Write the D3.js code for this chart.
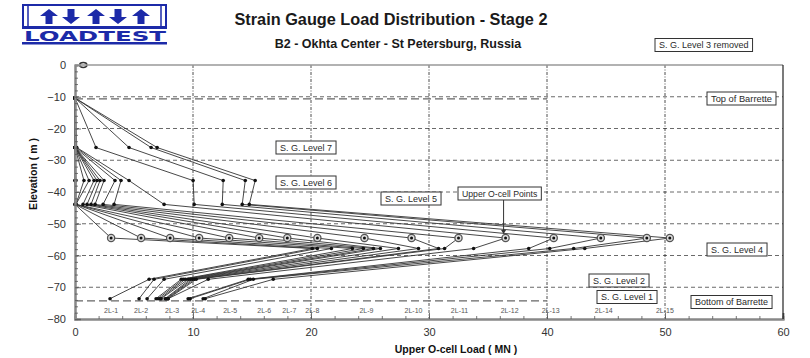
<!DOCTYPE html>
<html><head><meta charset="utf-8">
<script src="https://cdn.jsdelivr.net/npm/d3@7"></script>
<style>
body{margin:0;background:#fff;}
svg{display:block;font-family:"Liberation Sans",Arial,sans-serif;}
</style></head><body>
<svg id="chart" width="810" height="358"></svg>
<script>
// ---------------- DATA ----------------
const levelNames = ["Top of Barrette","S. G. Level 7","S. G. Level 6","S. G. Level 5","Upper O-cell","S. G. Level 4","S. G. Level 2","S. G. Level 1"];
const levelElev  = [-10.4, -26.0, -36.4, -43.9, -54.5, -57.8, -67.5, -73.6];

// load (MN) at each level for the 16 load steps
const loadTop   = [0,0,0,0,0,0,0,0,0,0,0,0,0,0,0,0];
const loadSG7   = [0,0,0,0,0,0,0,0,0,0,0.1,0.15,1.78,4.58,6.45,6.96];
const loadSG6   = [0,0,0.08,0.76,1.19,1.61,1.87,2.12,2.46,3.39,3.90,4.58,10.01,12.56,14.43,15.27];
const loadSG5   = [0,0,0.08,0.08,0.08,0.68,1.02,1.36,1.70,2.38,3.31,7.55,10.10,12.48,14.17,14.77];
const loadOcell = [3.06,5.60,8.06,10.52,13.07,15.61,17.99,20.54,24.53,28.52,32.50,36.49,40.57,44.56,48.46,50.41];
const loadSG4   = [20.11,20.54,21.73,23.51,24.44,25.29,25.88,27.41,29.11,30.81,31.32,33.78,38.45,40.23,42.26,43.20];
const loadSG2   = [6.28,6.70,7.55,9.00,9.17,9.34,9.59,9.76,9.93,10.10,10.27,11.29,14.68,14.85,15.11,16.80];
const loadSG1   = [2.97,5.43,6.11,6.87,7.04,7.21,7.30,7.64,7.72,7.81,7.89,7.89,9.59,9.76,10.86,11.03];

const stepLabels = ["2L-1","2L-2","2L-3","2L-4","2L-5","2L-6","2L-7","2L-8","2L-9","2L-10","2L-11","2L-12","2L-13","2L-14","2L-15"];
const stepLabelX = [3.06,5.60,8.23,10.44,13.15,16.04,18.16,20.11,24.70,28.69,32.59,36.83,40.31,44.81,49.99];

const xTicks = [0,10,20,30,40,50,60];
const yTicks = [0,-10,-20,-30,-40,-50,-60,-70,-80];
const gridX = [10,20,30,40,50];
const gridY = [-10,-20,-30,-40,-50,-60,-70];
const barretteElev = [-10.7,-74.3];
const barretteExtent = 40;
const zeroPoint = [0.7, 0];

const title = "Strain Gauge Load Distribution - Stage 2";
const subtitle = "B2 - Okhta Center - St Petersburg, Russia";
const xTitle = "Upper O-cell Load  ( MN )";
const yTitle = "Elevation  ( m )";

// ---------------- DRAW ----------------
const svg = d3.select("#chart");
const x = d3.scaleLinear().domain([0,60]).range([75,783]);
const y = d3.scaleLinear().domain([-80,0]).range([319,65]);

// grid
const g = svg.append("g");
g.selectAll(".gy").data(gridY).join("line")
  .attr("x1",x(0)).attr("x2",x(60)).attr("y1",d=>y(d)).attr("y2",d=>y(d))
  .attr("stroke","#444").attr("stroke-width",0.8).attr("stroke-dasharray","4,3");
g.selectAll(".gx").data(gridX).join("line")
  .attr("x1",d=>x(d)).attr("x2",d=>x(d)).attr("y1",y(0)).attr("y2",y(-80))
  .attr("stroke","#222").attr("stroke-width",0.8).attr("stroke-dasharray","3,1.5,1,1.5");
g.selectAll(".gb").data(barretteElev).join("line")
  .attr("x1",x(0)).attr("x2",x(barretteExtent)).attr("y1",d=>y(d)).attr("y2",d=>y(d))
  .attr("stroke","#666").attr("stroke-width",1.3).attr("stroke-dasharray","8,4");

// data lines
const loads = [loadTop,loadSG7,loadSG6,loadSG5,loadOcell,loadSG4,loadSG2,loadSG1];
const steps = loadOcell.map((_,i)=>levelElev.map((e,j)=>({v:loads[j][i], e, lvl:j})));
const line = d3.line().x(d=>x(d.v)).y(d=>y(d.e));
svg.append("g").selectAll("path").data(steps).join("path")
  .attr("d",line).attr("fill","none").attr("stroke","#333").attr("stroke-width",0.9);

// points
const allPts = steps.flat();
svg.append("g").selectAll("circle").data(allPts.filter(d=>d.lvl!==4)).join("circle")
  .attr("cx",d=>x(d.v)).attr("cy",d=>y(d.e)).attr("r",1.8).attr("fill","#111");
const oc = svg.append("g").selectAll("g").data(allPts.filter(d=>d.lvl===4)).join("g");
oc.append("circle").attr("cx",d=>x(d.v)).attr("cy",d=>y(d.e)).attr("r",3.6)
  .attr("fill","#ddd").attr("stroke","#555").attr("stroke-width",1.3);
oc.append("circle").attr("cx",d=>x(d.v)).attr("cy",d=>y(d.e)).attr("r",1.5).attr("fill","#111");

// zero marker
svg.append("ellipse").attr("cx",x(zeroPoint[0])).attr("cy",y(zeroPoint[1]))
  .attr("rx",3.6).attr("ry",2.4).attr("fill","#fff").attr("stroke","#333").attr("stroke-width",1.5);

// axes
const axB = svg.append("g").attr("transform",`translate(0,${y(-80)})`)
  .call(d3.axisBottom(x).tickValues(xTicks).tickSize(-6).tickPadding(9));
const axBm = svg.append("g").attr("transform",`translate(0,${y(-80)})`)
  .call(d3.axisBottom(x).tickValues(d3.range(0,61,2)).tickSize(-3).tickFormat(""));
const axL = svg.append("g").attr("transform",`translate(${x(0)},0)`)
  .call(d3.axisLeft(y).tickValues(yTicks).tickSize(-6).tickPadding(9));
const axLm = svg.append("g").attr("transform",`translate(${x(0)},0)`)
  .call(d3.axisLeft(y).tickValues(d3.range(-80,1,2)).tickSize(-3).tickFormat(""));
[axB,axBm,axL,axLm].forEach(a=>{
  a.select(".domain").attr("stroke","#888").attr("stroke-width",2);
  a.selectAll(".tick line").attr("stroke","#555").attr("stroke-width",0.8);
  a.selectAll("text").attr("fill","#333").attr("font-size",11).attr("font-family","Liberation Sans, Arial, sans-serif");
});
// frame top and right
svg.append("line").attr("x1",x(0)).attr("x2",x(60)).attr("y1",y(0)).attr("y2",y(0)).attr("stroke","#999").attr("stroke-width",1.5);
svg.append("line").attr("x1",x(60)).attr("x2",x(60)).attr("y1",y(0)).attr("y2",y(-80)).attr("stroke","#222").attr("stroke-width",1.2);

// step labels
svg.append("g").selectAll("text").data(stepLabels).join("text")
  .attr("x",(d,i)=>x(stepLabelX[i])).attr("y",313).attr("text-anchor","middle")
  .attr("font-size",7).attr("fill","#555").text(d=>d);

// axis titles
svg.append("text").attr("x",456).attr("y",353).attr("text-anchor","middle")
  .attr("font-size",10.5).attr("font-weight","bold").attr("fill","#111").text(xTitle);
svg.append("text").attr("transform","translate(37,174) rotate(-90)").attr("text-anchor","middle")
  .attr("font-size",10.5).attr("font-weight","bold").attr("fill","#111").text(yTitle);

// titles
svg.append("text").attr("x",391).attr("y",25).attr("text-anchor","middle")
  .attr("font-size",16.3).attr("font-weight","bold").attr("fill","#1a1a1a").text(title);
svg.append("text").attr("x",398).attr("y",48).attr("text-anchor","middle")
  .attr("font-size",12.5).attr("font-weight","bold").attr("fill","#1a1a1a").text(subtitle);

// annotation boxes (pixel layout)
function box(txt, left, cy, fs, bold){
  const t = svg.append("text").attr("x",left+4).attr("y",cy).attr("dy","0.35em")
    .attr("font-size",fs).attr("fill","#2a2a2a").attr("font-weight",bold?"bold":"normal").text(txt);
  const w = t.node().getComputedTextLength();
  svg.insert("rect", () => t.node()).attr("x",left).attr("y",cy-6.5).attr("width",w+8).attr("height",13)
    .attr("fill","#fff").attr("stroke","#333").attr("stroke-width",1);
}
box("S. G. Level 3 removed",655,45,9,false);
box("Top of Barrette",707,98.5,9.3,false);
box("S. G. Level 7",276,147.5,9,false);
box("S. G. Level 6",276,182.5,9,false);
box("S. G. Level 5",381,198.5,9,false);
box("Upper O-cell Points",458,193.5,8.7,false);
box("S. G. Level 4",707,249.5,9,false);
box("S. G. Level 2",589,280.5,9,false);
box("S. G. Level 1",597,297,9,false);
box("Bottom of Barrette",691,302,9,false);

// arrow to upper o-cell point
const ax = x(loadOcell[11]) - 2;
svg.append("line").attr("x1",ax).attr("x2",ax).attr("y1",200).attr("y2",y(levelElev[4])-6)
  .attr("stroke","#333").attr("stroke-width",1);
svg.append("path").attr("d",`M${ax-2.5},${y(levelElev[4])-8} L${ax+2.5},${y(levelElev[4])-8} L${ax},${y(levelElev[4])-4} Z`).attr("fill","#333");

// logo
const blue = "#1c2aa8";
const logo = svg.append("g");
logo.append("rect").attr("x",23).attr("y",5).attr("width",143).attr("height",22).attr("fill","none").attr("stroke",blue).attr("stroke-width",2);
logo.append("line").attr("x1",28).attr("x2",28).attr("y1",5).attr("y2",27).attr("stroke",blue).attr("stroke-width",1.5);
logo.append("line").attr("x1",161).attr("x2",161).attr("y1",5).attr("y2",27).attr("stroke",blue).attr("stroke-width",1.5);
logo.append("rect").attr("x",22).attr("y",26.5).attr("width",145).attr("height",2.5).attr("fill",blue);
const arrowX = [49,71,96,118,141];
arrowX.forEach((cx,i)=>{
  const up = i%2===0;
  const p = up
    ? `M${cx},9 L${cx+9},16 L${cx+3.5},16 L${cx+3.5},24 L${cx-3.5},24 L${cx-3.5},16 L${cx-9},16 Z`
    : `M${cx},24 L${cx+9},17 L${cx+3.5},17 L${cx+3.5},9 L${cx-3.5},9 L${cx-3.5},17 L${cx-9},17 Z`;
  logo.append("path").attr("d",p).attr("fill",blue);
});
logo.append("text").attr("x",24).attr("y",40.5).attr("font-size",14).attr("font-weight","bold")
  .attr("font-family","DejaVu Sans, sans-serif").attr("fill",blue)
  .attr("textLength",142).attr("lengthAdjust","spacingAndGlyphs").text("LOADTEST");
logo.append("rect").attr("x",22).attr("y",42).attr("width",145).attr("height",2.5).attr("fill",blue);
</script>
</body></html>
